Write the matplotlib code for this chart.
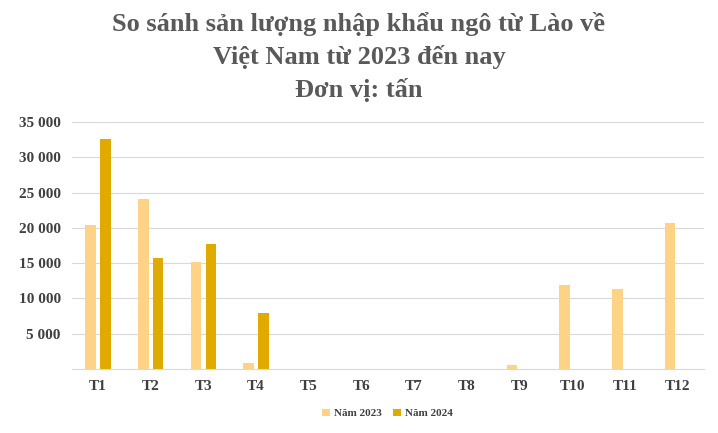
import numpy as np
import matplotlib.pyplot as plt

months = ['T1', 'T2', 'T3', 'T4', 'T5', 'T6', 'T7', 'T8', 'T9', 'T10', 'T11', 'T12']
nam_2023 = [20400, 24100, 15200, 900, 0, 0, 0, 0, 600, 11900, 11300, 20700]
nam_2024 = [32600, 15700, 17700, 7900, 0, 0, 0, 0, 0, 0, 0, 0]
title_lines = ['So sánh sản lượng nhập khẩu ngô từ Lào về',
               'Việt Nam từ 2023 đến nay',
               'Đơn vị: tấn']

plt.rcParams['font.family'] = ['Liberation Serif', 'DejaVu Serif']

fig = plt.figure(figsize=(7.18, 4.33), dpi=100)
ax = fig.add_axes([0.1, 0.148, 0.88, 0.57])

x = np.arange(len(months))
w = 0.2
ax.bar(x - 0.14, nam_2023, w, color='#FFD386', label='Năm 2023')
ax.bar(x + 0.14, nam_2024, w, color='#E0AA00', label='Năm 2024')

ax.set_xlim(-0.5, 11.5)
ax.set_ylim(0, 35000)
ax.set_yticks(range(5000, 35001, 5000))
ax.set_yticklabels([f'{v:,}'.replace(',', ' ') for v in range(5000, 35001, 5000)],
                   fontsize=11, fontweight='bold', color='#404040')
ax.set_xticks(x)
ax.set_xticklabels(months, fontsize=11, fontweight='bold', color='#404040')
ax.tick_params(length=0, pad=8)
ax.grid(axis='y', color='#d9d9d9', linewidth=0.8)
ax.set_axisbelow(True)
for s in ['top', 'right', 'left']:
    ax.spines[s].set_visible(False)
ax.spines['bottom'].set_color('#d9d9d9')

# tiêu đề: mỗi dòng một text để giữ khoảng cách dòng
for i, line in enumerate(title_lines):
    fig.text(0.5, 1 - (31 + 33 * i) / 433, line, ha='center', va='baseline',
             fontsize=19, fontweight='bold', color='#595959')

ax.legend(loc='upper center', bbox_to_anchor=(0.5, -0.12), ncol=2, frameon=False,
          prop={'size': 8, 'weight': 'bold'}, handlelength=0.7, handleheight=0.7,
          columnspacing=1.0, handletextpad=0.4, labelcolor='#404040')

fig.savefig('out.png', dpi=100)
